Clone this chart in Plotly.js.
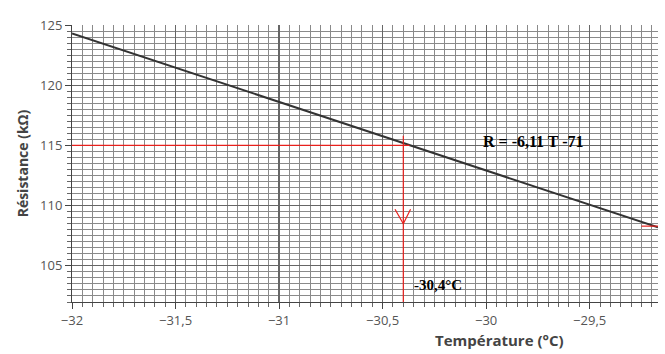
<!DOCTYPE html>
<html><head><meta charset="utf-8">
<script src="https://cdn.plot.ly/plotly-3.0.1.min.js"></script>
<style>html,body{margin:0;padding:0;background:#fff}#c{width:665px;height:354px}</style>
</head><body><div id="c"></div>
<script>
// Data
const temperature = [-32, -29.17];
const resistance = [124.3, 108.2];
const readT = -30.4;
const readR = 115;
const xTicks = [-32, -31.5, -31, -30.5, -30, -29.5];
const yTicks = [105, 110, 115, 120, 125];
const equationText = 'R = -6,11 T -71';
const readLabel = '-30,4°C';

const red = '#e8201c';
const traces = [
  {x: temperature, y: resistance, mode: 'lines', line: {color: '#333', width: 2}, hoverinfo: 'skip'},
  {x: [-32, readT + 0.03], y: [readR, readR], mode: 'lines', line: {color: red, width: 1.2}, hoverinfo: 'skip'},
  {x: [readT, readT], y: [115.8, 102], mode: 'lines', line: {color: red, width: 1.2}, hoverinfo: 'skip'},
  {x: [readT - 0.04, readT, readT + 0.035], y: [109.7, 108.5, 109.7], mode: 'lines', line: {color: red, width: 1.2}, hoverinfo: 'skip'},
  {x: [-29.25, -29.17], y: [108.3, 108.3], mode: 'lines', line: {color: red, width: 1.2}, hoverinfo: 'skip'}
];

const layout = {
  width: 665, height: 354,
  margin: {l: 72, r: 7, t: 25, b: 52},
  paper_bgcolor: '#fff', plot_bgcolor: '#fff',
  showlegend: false,
  separators: ', ',
  font: {family: 'Open Sans, sans-serif', size: 13, color: '#555'},
  xaxis: {
    range: [-32, -29.17], tickvals: xTicks, ticks: 'outside', ticklen: 6, tickcolor: '#444',
    showline: true, linecolor: '#444', linewidth: 1,
    showgrid: true, gridcolor: '#666', gridwidth: 1.2, zeroline: false,
    tickfont: {size: 13, color: '#555'},
    minor: {dtick: 0.05, tick0: -32, ticks: 'outside', ticklen: 4, tickcolor: '#666', showgrid: true, gridcolor: '#8a8a8a', gridwidth: 1}
  },
  yaxis: {
    range: [102, 125], tickvals: yTicks, ticks: 'outside', ticklen: 6, tickcolor: '#444',
    showline: true, linecolor: '#444', linewidth: 1,
    showgrid: true, gridcolor: '#666', gridwidth: 1.2, zeroline: false,
    tickfont: {size: 13, color: '#555'},
    title: {text: 'Résistance (kΩ)', font: {family: 'Open Sans, sans-serif', size: 14, color: '#444', weight: 'bold'}, standoff: 8},
    minor: {dtick: 0.5, tick0: 102, ticks: 'outside', ticklen: 4, tickcolor: '#666', showgrid: true, gridcolor: '#8a8a8a', gridwidth: 1}
  },
  annotations: [
    {xref: 'paper', yref: 'paper', x: 0.73, y: -0.095, xanchor: 'center', yanchor: 'top', showarrow: false,
     text: '<b>Température (°C)</b>', font: {family: 'Open Sans, sans-serif', size: 15, color: '#444'}},
    {x: -29.77, y: 115.3, xref: 'x', yref: 'y', xanchor: 'center', yanchor: 'middle', showarrow: false,
     text: '<b>' + equationText + '</b>', font: {family: 'Liberation Serif, Times New Roman, serif', size: 16, color: '#000'}},
    {x: -30.36, y: 103.4, xref: 'x', yref: 'y', xanchor: 'left', yanchor: 'middle', showarrow: false,
     text: '<b>' + readLabel + '</b>', font: {family: 'Liberation Serif, Times New Roman, serif', size: 15, color: '#000'}}
  ]
};
Plotly.newPlot('c', traces, layout, {displayModeBar: false, staticPlot: true});
</script></body></html>
